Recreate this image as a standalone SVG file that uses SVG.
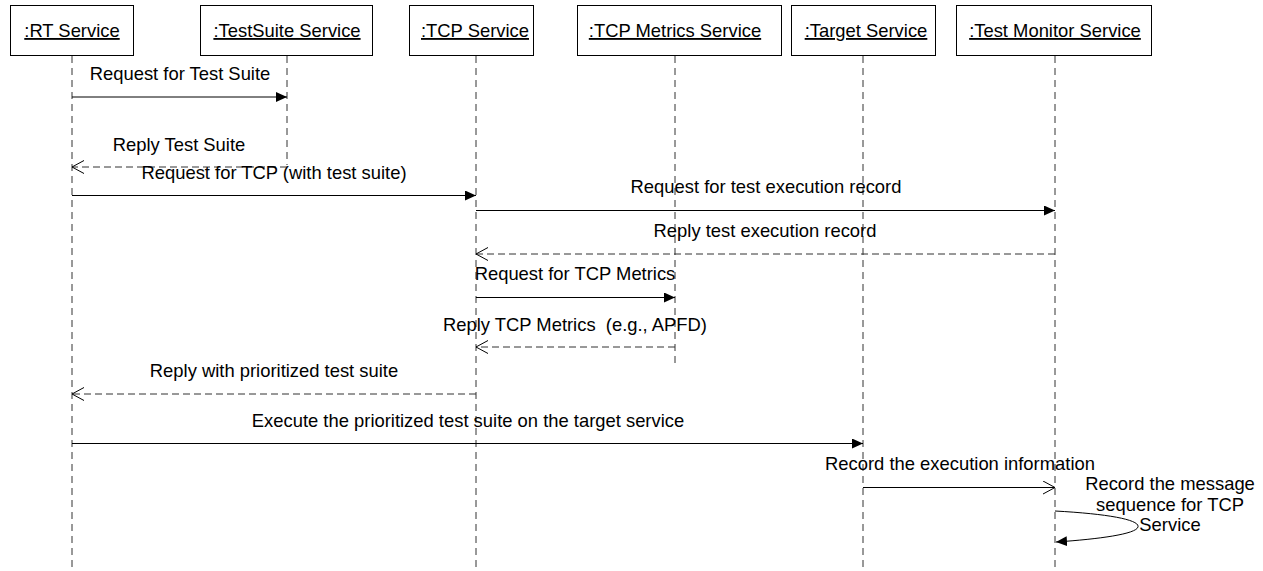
<svg xmlns="http://www.w3.org/2000/svg" width="1263" height="571" viewBox="0 0 1263 571">
<style>
text{font-family:"Liberation Sans",Arial,sans-serif;font-size:18.4px;fill:#000}
.hdr{text-decoration:underline;text-anchor:middle}
.lbl{text-anchor:middle}
.box{fill:#fff;stroke:#000;stroke-width:1}
.life{stroke:#333;stroke-width:1;stroke-dasharray:7,5;fill:none}
.msg{stroke:#000;stroke-width:1;fill:none}
.rep{stroke:#333;stroke-width:1;stroke-dasharray:7,4;fill:none}
</style>
<defs>
<marker id="fill" markerUnits="userSpaceOnUse" markerWidth="12" markerHeight="10" refX="11" refY="5" orient="auto">
<path d="M0,0 L11,5 L0,10 z" fill="#000"/>
</marker>
<marker id="open" markerUnits="userSpaceOnUse" markerWidth="13" markerHeight="14" refX="12" refY="7" orient="auto">
<path d="M0,0.5 L12,7 L0,13.5" fill="none" stroke="#000" stroke-width="1"/>
</marker>
</defs>
<g id="rt"><rect class="box" x="10.5" y="5.5" width="123" height="50"/><text class="hdr" x="72" y="37">:RT Service</text><line class="life" x1="72" y1="56" x2="72" y2="571"/></g>
<g id="testsuite"><rect class="box" x="200.5" y="5.5" width="172" height="50"/><text class="hdr" x="287" y="37">:TestSuite Service</text><line class="life" x1="287" y1="56" x2="287" y2="165"/></g>
<g id="tcp"><rect class="box" x="409.5" y="5.5" width="124" height="50"/><text class="hdr" x="475" y="37">:TCP Service</text><line class="life" x1="476" y1="56" x2="476" y2="571"/></g>
<g id="metrics"><rect class="box" x="577.5" y="5.5" width="204" height="50"/><text class="hdr" x="675" y="37">:TCP Metrics Service</text><line class="life" x1="675" y1="56" x2="675" y2="365"/></g>
<g id="target"><rect class="box" x="791.5" y="5.5" width="144" height="50"/><text class="hdr" x="866" y="37">:Target Service</text><line class="life" x1="863" y1="56" x2="863" y2="571"/></g>
<g id="monitor"><rect class="box" x="956.5" y="5.5" width="195" height="50"/><text class="hdr" x="1055" y="37">:Test Monitor Service</text><line class="life" x1="1055" y1="56" x2="1055" y2="571"/></g>
<g id="connectors">
<line class="msg" x1="72" y1="97" x2="287" y2="97" marker-end="url(#fill)"/>
<text class="lbl" x="180" y="80">Request for Test Suite</text>
<line class="rep" x1="287" y1="167" x2="72" y2="167" marker-end="url(#open)"/>
<text class="lbl" x="179" y="151">Reply Test Suite</text>
<line class="msg" x1="72" y1="195.5" x2="476" y2="195.5" marker-end="url(#fill)"/>
<text class="lbl" x="274" y="179">Request for TCP (with test suite)</text>
<line class="msg" x1="476" y1="210.5" x2="1055" y2="210.5" marker-end="url(#fill)"/>
<text class="lbl" x="766" y="193">Request for test execution record</text>
<line class="rep" x1="1055" y1="254" x2="476" y2="254" marker-end="url(#open)"/>
<text class="lbl" x="765" y="237">Reply test execution record</text>
<line class="msg" x1="476" y1="297.5" x2="675" y2="297.5" marker-end="url(#fill)"/>
<text class="lbl" x="575" y="280">Request for TCP Metrics</text>
<line class="rep" x1="675" y1="347" x2="476" y2="347" marker-end="url(#open)"/>
<text class="lbl" x="575" y="331" xml:space="preserve">Reply TCP Metrics  (e.g., APFD)</text>
<line class="rep" x1="476" y1="394" x2="72" y2="394" marker-end="url(#open)"/>
<text class="lbl" x="274" y="377">Reply with prioritized test suite</text>
<line class="msg" x1="72" y1="443.5" x2="863" y2="443.5" marker-end="url(#fill)"/>
<text class="lbl" x="468" y="427">Execute the prioritized test suite on the target service</text>
<line class="msg" x1="863" y1="487.5" x2="1055" y2="487.5" marker-end="url(#open)"/>
<text class="lbl" x="960" y="470">Record the execution information</text>
<path class="msg" d="M1055,511 C1110,514 1140,520 1138,527 C1136,534 1100,539 1056,542" marker-end="url(#fill)"/>
<text class="lbl" x="1170" y="490">Record the message</text>
<text class="lbl" x="1170" y="511">sequence for TCP</text>
<text class="lbl" x="1170" y="531">Service</text>
</g>
</svg>
